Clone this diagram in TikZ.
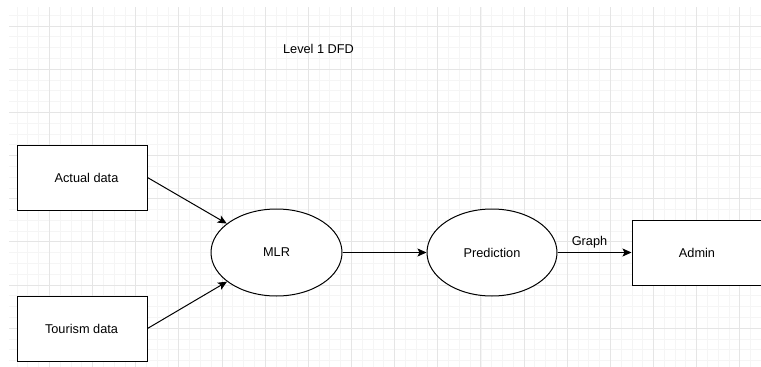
\documentclass[tikz,border=0pt]{standalone}
\usepackage{fontspec}
\setmainfont{Liberation Sans}
\usetikzlibrary{arrows.meta,shapes.geometric}
\begin{document}
\begin{tikzpicture}[x=1pt,y=-1pt,
  every node/.style={font=\fontsize{12.75}{15}\selectfont, inner sep=0pt},
  boxnode/.style={draw=black, line width=1pt, rectangle, minimum width=130pt, minimum height=65pt},
  procnode/.style={draw=black, line width=1pt, ellipse, minimum width=131pt, minimum height=87pt},
  flow/.style={draw=black, line width=1pt, -{Stealth[length=9pt,width=8pt,inset=2pt]}},
  minorgrid/.style={draw=black!4, line width=0.6pt},
  majorgrid/.style={draw=black!10, line width=0.8pt}]
\useasboundingbox (0,0) rectangle (761,367);
\fill[white] (0,0) rectangle (761,367);
% grid
\begin{scope}
\clip (9,7) rectangle (761,367);
\foreach \i in {0,...,72} {
  \draw[minorgrid] ({6.15+10.7875*\i},0) -- ({6.15+10.7875*\i},367);
}
\foreach \i in {0,...,36} {
  \draw[minorgrid] (0,{-17.15+10.7875*\i}) -- (761,{-17.15+10.7875*\i});
}
\foreach \i in {0,...,18} {
  \draw[majorgrid] ({6.15+43.15*\i},0) -- ({6.15+43.15*\i},367);
}
\foreach \i in {0,...,9} {
  \draw[majorgrid] (0,{-17.15+43.15*\i}) -- (761,{-17.15+43.15*\i});
}
\end{scope}
% title
\node (title) at (318.5,49) {Level 1 DFD};
% nodes
\node[boxnode, fill=white] (actual) at (82,177.5) {};
\node (actualtxt) at (86.5,178) {Actual data};
\node[boxnode, fill=white] (tourism) at (82,328.5) {};
\node (tourismtxt) at (81.5,329) {Tourism data};
\node[procnode, fill=white] (mlr) at (276.5,252.5) {MLR};
\node[procnode, fill=white, minimum width=130pt] (pred) at (492,252.5) {Prediction};
\node[boxnode, fill=white, minimum width=130pt] (admin) at (697,252.5) {Admin};
% flows
\draw[flow] (actual.east) -- (mlr);
\draw[flow] (tourism.east) -- (mlr);
\draw[flow] (mlr.east) -- (pred.west);
\draw[flow] (pred.east) -- node[above=4pt, xshift=-5pt] (graphlbl) {Graph} (admin.west);
\end{tikzpicture}
\end{document}
